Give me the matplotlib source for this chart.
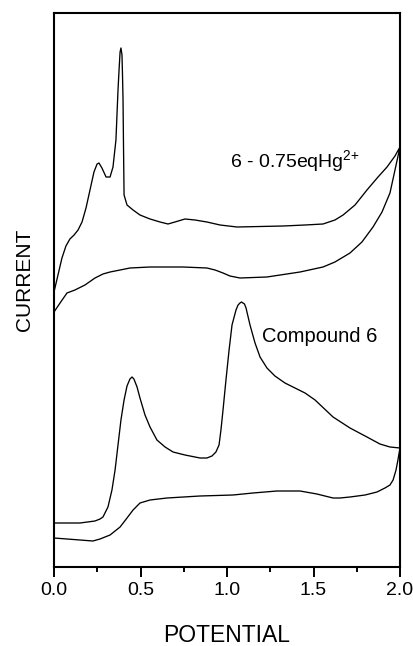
import matplotlib
matplotlib.use("Agg")
import matplotlib.pyplot as plt
from matplotlib.ticker import MultipleLocator

plt.rcParams['font.family'] = ['Liberation Sans', 'DejaVu Sans']
plt.rcParams['mathtext.fontset'] = 'custom'
plt.rcParams['mathtext.rm'] = 'Liberation Sans'
plt.rcParams['mathtext.default'] = 'regular'

# --- Data (potential in V, current in arbitrary units) ---
hg_fwd_potential = [0.00, 0.023, 0.046, 0.069, 0.092, 0.116, 0.139, 0.162, 0.185, 0.208, 0.231,
                    0.249, 0.260, 0.277,
                    0.301, 0.324, 0.341, 0.358, 0.370, 0.376, 0.382, 0.387, 0.393, 0.396, 0.399,
                    0.402, 0.405, 0.422, 0.457, 0.497, 0.555, 0.613, 0.659, 0.699, 0.757, 0.815,
                    0.884, 0.960, 1.058, 1.191, 1.324, 1.451, 1.555, 1.624, 1.671, 1.740, 1.809,
                    1.873, 1.925, 1.971, 2.000]
hg_fwd_current = [27.5, 29.2, 30.9, 32.1, 32.8, 33.2, 33.7, 34.5, 35.9, 37.7, 39.5,
                  40.3, 40.4, 39.9,
                  39.0, 39.0, 40.0, 42.7, 47.7, 49.7, 51.5, 51.9, 51.2, 49.2, 46.7,
                  41.7, 37.2, 36.2, 35.7, 35.2, 34.8, 34.5, 34.3, 34.5, 34.8, 34.7,
                  34.5, 34.2, 34.0, 34.05, 34.1, 34.2, 34.3, 34.7, 35.2, 36.2, 37.7,
                  39.0, 40.0, 41.1, 42.0]
hg_rev_potential = [2.000, 1.971, 1.942, 1.896, 1.844, 1.780, 1.711, 1.624, 1.555, 1.422, 1.231,
                    1.075, 1.017, 0.977, 0.931, 0.884, 0.746, 0.555, 0.439, 0.382, 0.324, 0.283,
                    0.237, 0.179, 0.121, 0.075, 0.035, 0.000]
hg_rev_current = [42.0, 39.7, 37.4, 35.5, 34.0, 32.5, 31.4, 30.5, 30.0, 29.5, 29.0,
                  28.9, 29.1, 29.4, 29.7, 29.9, 30.0, 30.0, 29.9, 29.7, 29.5, 29.3,
                  28.9, 28.2, 27.7, 27.4, 26.4, 25.5]

c6_fwd_potential = [0.000, 0.150, 0.237, 0.266, 0.283, 0.312, 0.335, 0.353, 0.370, 0.387, 0.405,
                    0.422, 0.439, 0.451, 0.462, 0.480, 0.497, 0.526, 0.555, 0.595, 0.642, 0.688,
                    0.757, 0.844, 0.884, 0.913, 0.936, 0.954, 0.965, 0.977, 0.994, 1.012, 1.029,
                    1.052, 1.064, 1.075, 1.084, 1.092, 1.101, 1.110, 1.133, 1.162, 1.191, 1.231,
                    1.277, 1.335, 1.393, 1.451, 1.509, 1.613, 1.711, 1.809, 1.884, 1.942, 2.000]
c6_fwd_current = [4.4, 4.4, 4.6, 4.8, 5.0, 6.0, 7.7, 9.7, 12.2, 14.7, 16.7,
                  18.1, 18.8, 19.0, 18.8, 18.0, 16.9, 15.2, 14.0, 12.7, 12.0, 11.5,
                  11.2, 10.9, 10.9, 11.1, 11.5, 12.2, 13.7, 15.7, 18.7, 21.7, 24.2,
                  25.7, 26.2, 26.4, 26.5, 26.4, 26.3, 25.9, 24.2, 22.4, 21.0, 19.9,
                  19.1, 18.4, 17.9, 17.4, 16.7, 15.0, 13.9, 13.0, 12.3, 12.0, 11.9]
c6_rev_potential = [2.000, 1.988, 1.977, 1.960, 1.942, 1.913, 1.867, 1.798, 1.711, 1.653, 1.613,
                    1.566, 1.520, 1.422, 1.289, 1.150, 1.035, 0.844, 0.653, 0.555, 0.497, 0.457,
                    0.422, 0.382, 0.324, 0.266, 0.225, 0.150, 0.000]
c6_rev_current = [11.9, 10.7, 9.7, 8.7, 8.2, 7.9, 7.5, 7.2, 7.0, 6.9, 6.9,
                  7.1, 7.3, 7.6, 7.6, 7.4, 7.2, 7.1, 6.9, 6.7, 6.4, 5.7,
                  4.9, 4.0, 3.2, 2.8, 2.6, 2.7, 2.9]

x_ticks = [0.0, 0.5, 1.0, 1.5, 2.0]
x_tick_labels = ['0.0', '0.5', '1.0', '1.5', '2.0']

fig = plt.figure(figsize=(4.13, 6.46), dpi=100)
ax = fig.add_axes([54 / 413, 1 - 567 / 646, 346 / 413, 554 / 646])

lw = 0.95
ax.plot(hg_fwd_potential + hg_rev_potential, hg_fwd_current + hg_rev_current,
        color='black', lw=lw)
ax.plot(c6_fwd_potential + c6_rev_potential, c6_fwd_current + c6_rev_current,
        color='black', lw=lw)

ax.set_xlim(0, 2.0)
ax.set_ylim(0, 55.4)
ax.set_xticks(x_ticks)
ax.set_xticklabels(x_tick_labels)
ax.xaxis.set_minor_locator(MultipleLocator(0.25))
ax.set_yticks([])
for s in ax.spines.values():
    s.set_linewidth(1.5)
ax.tick_params(axis='x', which='major', direction='out', length=7.2, width=1.4,
               labelsize=14, pad=3.5)
ax.tick_params(axis='x', which='minor', direction='out', length=3.6, width=1.4)

ax.set_xlabel('POTENTIAL', fontsize=16.5)
ax.xaxis.label.set_va('center')
ax.xaxis.set_label_coords(0.5, -0.1245)
ax.set_ylabel('CURRENT', fontsize=15)
ax.yaxis.label.set_va('center')
ax.yaxis.set_label_coords(-0.084, 0.518)

ax.text(1.017, 40.0, '6 - 0.75eqHg$^{2{+}}$', fontsize=14, ha='left', va='baseline')
ax.text(1.202, 23.0, 'Compound 6', fontsize=14.5, ha='left', va='center')

fig.savefig('out.png', dpi=100)
